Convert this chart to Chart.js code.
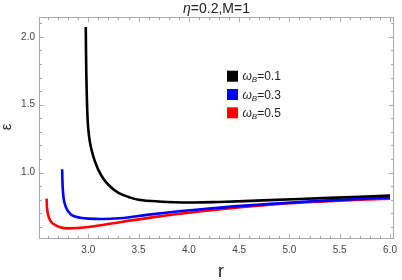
<!DOCTYPE html>
<html>
<head>
<meta charset="utf-8">
<script src="https://cdn.jsdelivr.net/npm/chart.js@4/dist/chart.umd.min.js"></script>
<style>
  html, body { margin: 0; padding: 0; background: #fff; }
  #wrap { width: 402px; height: 280px; }
</style>
</head>
<body>
<div id="wrap"><canvas id="chart"></canvas></div>
<script>
// ε(r) curves, one per ω_B
const omegaLabels = ['0.1', '0.3', '0.5'];
const lineColors  = ['#000000', '#0000ff', '#ff0000'];

const rBlack   = [2.975, 2.98, 2.99, 3.0, 3.015, 3.035, 3.06, 3.1, 3.15, 3.22, 3.3, 3.4, 3.5, 3.7, 4.0, 4.3, 4.8, 5.4, 6.0];
const epsBlack = [2.074, 1.75, 1.45, 1.32, 1.23, 1.16, 1.095, 1.02, 0.955, 0.895, 0.85, 0.82, 0.80, 0.787, 0.779, 0.783, 0.797, 0.813, 0.83];

const rBlue   = [2.74, 2.745, 2.755, 2.77, 2.795, 2.84, 2.92, 3.0, 3.17, 3.35, 3.6, 4.2, 4.86, 5.4, 6.0];
const epsBlue = [1.024, 0.9, 0.81, 0.76, 0.72, 0.685, 0.667, 0.66, 0.658, 0.665, 0.69, 0.735, 0.771, 0.795, 0.816];

const rRed   = [2.585, 2.59, 2.6, 2.62, 2.65, 2.72, 2.8, 3.0, 3.33, 3.69, 4.2, 4.86, 5.4, 6.0];
const epsRed = [0.808, 0.74, 0.69, 0.65, 0.622, 0.597, 0.588, 0.598, 0.636, 0.675, 0.72, 0.766, 0.789, 0.808];

const xMajor = [3.0, 3.5, 4.0, 4.5, 5.0, 5.5, 6.0];
const yMajor = [1.0, 1.5, 2.0];

const xMinor = [];
for (let v = 26; v <= 60; v++) if (v % 5) xMinor.push(v / 10);
const yMinor = [];
for (let v = 6; v <= 21; v++) if (v % 5) yMinor.push(v / 10);

const pts = (xs, ys) => xs.map((x, i) => ({ x, y: ys[i] }));
const series = [pts(rBlack, epsBlack), pts(rBlue, epsBlue), pts(rRed, epsRed)];

const FONT = '"Liberation Sans", Arial, sans-serif';

// frame with inward ticks on all four sides, Mathematica style
const framePlugin = {
  id: 'frame',
  beforeDatasetsDraw(chart) {
    const { ctx, chartArea: a, scales: { x, y } } = chart;
    ctx.save();
    ctx.strokeStyle = '#a8a8a8';
    ctx.lineWidth = 1;
    ctx.strokeRect(a.left + 0.5, a.top + 0.5, a.right - a.left - 1, a.bottom - a.top - 1);
    const tick = (vals, len) => {
      ctx.beginPath();
      vals.forEach(v => {
        const px = Math.round(x.getPixelForValue(v)) + 0.5;
        ctx.moveTo(px, a.bottom); ctx.lineTo(px, a.bottom - len);
        ctx.moveTo(px, a.top); ctx.lineTo(px, a.top + len);
      });
      ctx.stroke();
    };
    const tickY = (vals, len) => {
      ctx.beginPath();
      vals.forEach(v => {
        const py = Math.round(y.getPixelForValue(v)) + 0.5;
        ctx.moveTo(a.left, py); ctx.lineTo(a.left + len, py);
        ctx.moveTo(a.right, py); ctx.lineTo(a.right - len, py);
      });
      ctx.stroke();
    };
    tick(xMajor, 5); tick(xMinor, 3);
    tickY(yMajor, 5); tickY(yMinor, 3);
    ctx.restore();
  },
  afterDraw(chart) {
    const { ctx, chartArea: a } = chart;
    ctx.save();
    ctx.fillStyle = '#222';
    ctx.textBaseline = 'alphabetic';

    // title: η=0.2,M=1
    const eta = 'η', rest = '=0.2,M=1';
    ctx.font = `italic 14px ${FONT}`;
    const wEta = ctx.measureText(eta).width;
    ctx.font = `14px ${FONT}`;
    const wRest = ctx.measureText(rest).width;
    const tx = (a.left + a.right) / 2 - (wEta + wRest) / 2;
    ctx.font = `italic 14px ${FONT}`;
    ctx.fillText(eta, tx, 12.5);
    ctx.font = `14px ${FONT}`;
    ctx.fillText(rest, tx + wEta, 12.5);

    // axis titles
    ctx.textAlign = 'center';
    ctx.font = `18px ${FONT}`;
    ctx.fillText('r', 221, 277);
    ctx.save();
    ctx.translate(10.5, 127);
    ctx.rotate(-Math.PI / 2);
    ctx.font = `15px ${FONT}`;
    ctx.fillText('ε', 0, 0);
    ctx.restore();

    // legend
    ctx.textAlign = 'left';
    omegaLabels.forEach((lab, i) => {
      const cy = 76.2 + i * 18.3;
      ctx.fillStyle = lineColors[i];
      ctx.fillRect(227, cy - 5.5, 11, 11);
      ctx.fillStyle = '#222';
      let lx = 242.5;
      const by = cy + 4;
      ctx.font = `italic 12px ${FONT}`;
      ctx.fillText('ω', lx, by);
      lx += ctx.measureText('ω').width;
      ctx.font = `italic 8px ${FONT}`;
      ctx.fillText('B', lx, by + 2);
      lx += ctx.measureText('B').width;
      ctx.font = `12px ${FONT}`;
      ctx.fillText('=' + lab, lx, by);
    });
    ctx.restore();
  }
};

new Chart(document.getElementById('chart'), {
  type: 'line',
  data: {
    datasets: series.map((d, i) => ({
      label: 'ω_B=' + omegaLabels[i],
      data: d,
      borderColor: lineColors[i],
      backgroundColor: lineColors[i],
      borderWidth: 2.6,
      pointRadius: 0,
      fill: false,
      tension: 0.4,
    })),
  },
  options: {
    responsive: true,
    maintainAspectRatio: false,
    animation: false,
    devicePixelRatio: 1,
    layout: { padding: { top: 17, right: 3, left: 0, bottom: 0 } },
    plugins: { legend: { display: false }, tooltip: { enabled: false }, title: { display: false } },
    scales: {
      x: {
        type: 'linear',
        min: 2.51,
        max: 6.04,
        afterBuildTicks: s => { s.ticks = xMajor.map(v => ({ value: v })); },
        afterFit: s => { s.height = 41; },
        grid: { display: false, drawTicks: false },
        border: { display: false },
        ticks: {
          callback: v => v.toFixed(1),
          color: '#444',
          font: { family: FONT, size: 10 },
          padding: 5,
          maxRotation: 0,
          autoSkip: false,
        },
      },
      y: {
        type: 'linear',
        min: 0.51,
        max: 2.147,
        afterBuildTicks: s => { s.ticks = yMajor.map(v => ({ value: v })); },
        afterFit: s => { s.width = 39; },
        grid: { display: false, drawTicks: false },
        border: { display: false },
        ticks: {
          callback: v => v.toFixed(1),
          color: '#444',
          font: { family: FONT, size: 10 },
          padding: 4,
        },
      },
    },
  },
  plugins: [framePlugin],
});
</script>
</body>
</html>
